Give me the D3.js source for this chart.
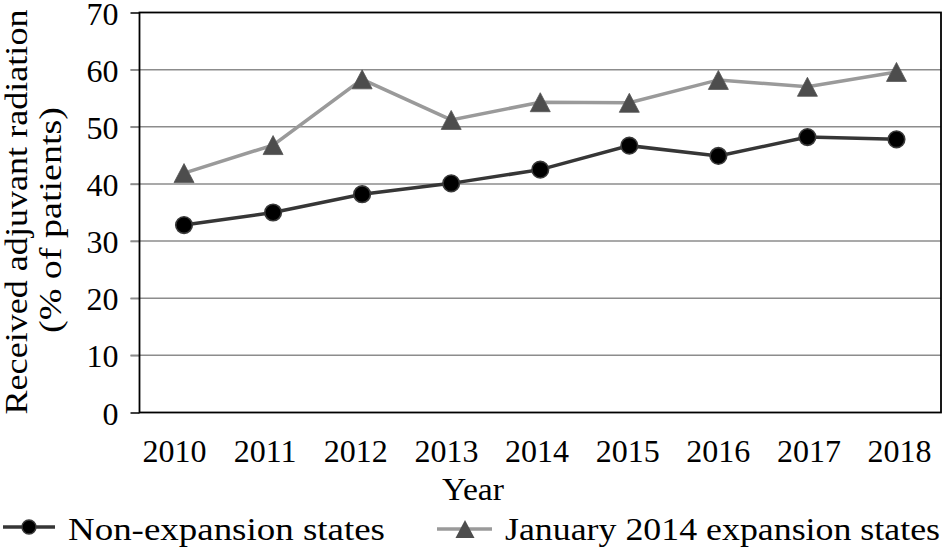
<!DOCTYPE html>
<html>
<head>
<meta charset="utf-8">
<script src="https://cdn.jsdelivr.net/npm/d3@7"></script>
<style>
  html, body { margin: 0; padding: 0; background: #fff; }
  svg { display: block; }
  text { font-family: "Liberation Serif", "Times New Roman", serif; fill: #000; }
</style>
</head>
<body>
<svg id="chart" width="943" height="551"></svg>
<script>
const years = ["2010","2011","2012","2013","2014","2015","2016","2017","2018"];
const nonExpansion = [32.8, 35.0, 38.2, 40.1, 42.5, 46.7, 44.9, 48.2, 47.8];
const expansion2014 = [41.9, 46.8, 58.3, 51.2, 54.3, 54.2, 58.2, 57.0, 59.6];
const yTicks = [0, 10, 20, 30, 40, 50, 60, 70];
const seriesNames = ["Non-expansion states", "January 2014 expansion states"];
const yTitleLines = ["Received adjuvant radiation", "(% of patients)"];
const xTitle = "Year";

const svg = d3.select("#chart");
const m = { left: 139.5, right: 941, top: 12.5, bottom: 412.5 };

const x = d3.scaleBand().domain(years).range([m.left, m.right]).padding(0);
const xLabel = d3.scalePoint().domain(years).range([174, 899]);
const y = d3.scaleLinear().domain([0, 70]).range([m.bottom, m.top]);
const cx = d => x(d) + x.bandwidth() / 2;

// gridlines (extend left as tick marks)
svg.append("g").selectAll("line").data(yTicks.filter(t => t > 0 && t < 70)).join("line")
  .attr("x1", m.left - 9).attr("x2", m.right)
  .attr("y1", d => y(d)).attr("y2", d => y(d))
  .attr("stroke", "#8c8c8c").attr("stroke-width", 1.5);

// y axis
const yAxis = d3.axisLeft(y).tickValues(yTicks).tickSize(9).tickPadding(12).tickFormat(d3.format("d"));
const gy = svg.append("g").attr("transform", `translate(${m.left},0)`).call(yAxis);
gy.select(".domain").remove();
gy.selectAll(".tick line").attr("stroke", d => (d === 0 || d === 70) ? "#000" : "#8c8c8c").attr("stroke-width", 1.5);
gy.selectAll(".tick text").attr("font-size", 32).attr("font-family", "Liberation Serif").attr("dy", "0.36em");

// plot border
svg.append("rect").attr("x", m.left).attr("y", m.top)
  .attr("width", m.right - m.left).attr("height", m.bottom - m.top)
  .attr("fill", "none").attr("stroke", "#000").attr("stroke-width", 1.8);

// x axis labels
const xAxis = d3.axisBottom(xLabel).tickSize(0).tickPadding(0);
const gx = svg.append("g").attr("transform", `translate(0,${m.bottom})`).call(xAxis);
gx.select(".domain").remove();
gx.selectAll(".tick text").attr("font-size", 32).attr("font-family", "Liberation Serif")
  .attr("dy", null).attr("y", 49.5);

// axis titles
svg.append("text").attr("x", 473).attr("y", 500).attr("text-anchor", "middle")
  .attr("font-size", 32).attr("textLength", 62).attr("lengthAdjust", "spacingAndGlyphs").text(xTitle);

svg.append("text").attr("transform", "translate(27,212) rotate(-90)").attr("text-anchor", "middle")
  .attr("font-size", 31).attr("textLength", 405).attr("lengthAdjust", "spacingAndGlyphs").text(yTitleLines[0]);
svg.append("text").attr("transform", "translate(61,220) rotate(-90)").attr("text-anchor", "middle")
  .attr("font-size", 31).attr("textLength", 226).attr("lengthAdjust", "spacingAndGlyphs").text(yTitleLines[1]);

// series
const lineGen = d3.line().x((d, i) => cx(years[i])).y(d => y(d));
const darkLine = "#363636", lightLine = "#9a9a9a", triFill = "#4d4d4d";
const triPath = (w, h) => `M0,${-h/2}L${w/2},${h/2}L${-w/2},${h/2}Z`;

svg.append("path").datum(expansion2014).attr("d", lineGen)
  .attr("fill", "none").attr("stroke", lightLine).attr("stroke-width", 3.5);
svg.append("g").selectAll("path").data(expansion2014).join("path")
  .attr("transform", (d, i) => `translate(${cx(years[i])},${y(d)})`)
  .attr("d", triPath(20, 19)).attr("fill", triFill).attr("stroke", "#555").attr("stroke-width", 0.8);

svg.append("path").datum(nonExpansion).attr("d", lineGen)
  .attr("fill", "none").attr("stroke", darkLine).attr("stroke-width", 3.5);
svg.append("g").selectAll("circle").data(nonExpansion).join("circle")
  .attr("cx", (d, i) => cx(years[i])).attr("cy", d => y(d)).attr("r", 8.3)
  .attr("fill", "#000").attr("stroke", "#3a3a3a").attr("stroke-width", 1.6);

// legend
const lg = svg.append("g");
lg.append("line").attr("x1", 3).attr("x2", 55).attr("y1", 527).attr("y2", 527)
  .attr("stroke", darkLine).attr("stroke-width", 3.5);
lg.append("circle").attr("cx", 29).attr("cy", 527).attr("r", 7).attr("fill", "#000")
  .attr("stroke", "#3a3a3a").attr("stroke-width", 1.4);
lg.append("text").attr("x", 68).attr("y", 540).attr("font-size", 32)
  .attr("textLength", 317).attr("lengthAdjust", "spacingAndGlyphs").text(seriesNames[0]);

lg.append("line").attr("x1", 437).attr("x2", 492).attr("y1", 529).attr("y2", 529)
  .attr("stroke", lightLine).attr("stroke-width", 3.5);
lg.append("path").attr("transform", "translate(465,529)").attr("d", triPath(19, 18))
  .attr("fill", triFill);
lg.append("text").attr("x", 505).attr("y", 540).attr("font-size", 32)
  .attr("textLength", 435).attr("lengthAdjust", "spacingAndGlyphs").text(seriesNames[1]);
</script>
</body>
</html>
